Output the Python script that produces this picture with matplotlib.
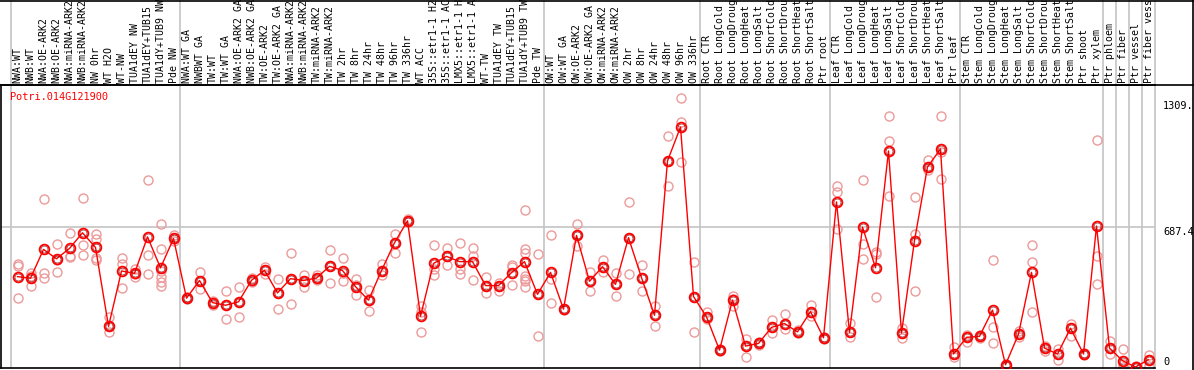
import matplotlib
matplotlib.use("Agg")
import matplotlib.pyplot as plt
import matplotlib.transforms as mtransforms
from matplotlib.lines import Line2D

# sample groups (labels are cut to 14 chars like the original)
labels_nw = ["NWA:WT", "NWB:WT", "NWA:OE-ARK2", "NWB:OE-ARK2", "NWA:miRNA-ARK2", "NWB:miRNA-ARK2",
             "NW 0hr", "WT H2O", "WT-NW", "TUA1dEY NW", "TUA1dEY+TUB15", "TUA1dY+TUB9 NW", "Pde NW"]
labels_tw = ["NWA:WT GA", "NWBWT GA", "TW:WT", "TW:WT GA", "NWA:OE-ARK2 GA", "NWB:OE-ARK2 GA",
             "TW:OE-ARK2", "TW:OE-ARK2 GA", "NWA:miRNA-ARK2", "NWB:miRNA-ARK2", "TW:miRNA-ARK2",
             "TW:miRNA-ARK2", "TW 2hr", "TW 8hr", "TW 24hr", "TW 48hr", "TW 96hr", "TW 336hr", "WT ACC",
             "35S::etr1-1 H2", "35S::etr1-1 AC", "LMX5::etr1-1 H", "LMX5::etr1-1 A", "WT-TW",
             "TUA1dEY TW", "TUA1dEY+TUB15", "TUA1dY+TUB9 TW", "Pde TW"]
labels_ow = ["OW:WT", "OW:WT GA", "OW:OE-ARK2", "OW:OE-ARK2 GA", "OW:miRNA-ARK2", "OW:miRNA-ARK2",
             "OW 2hr", "OW 8hr", "OW 24hr", "OW 48hr", "OW 96hr", "OW 336hr"]
labels_root = ["Root CTR", "Root LongCold", "Root LongDroug", "Root LongHeat", "Root LongSalt",
               "Root ShortCold", "Root ShortDrou", "Root ShortHeat", "Root ShortSalt", "Ptr root"]
labels_leaf = ["Leaf CTR", "Leaf LongCold", "Leaf LongDroug", "Leaf LongHeat", "Leaf LongSalt",
               "Leaf ShortCold", "Leaf ShortDrou", "Leaf ShortHeat", "Leaf ShortSalt", "Ptr leaf"]
labels_stem = ["Stem CTR", "Stem LongCold", "Stem LongDroug", "Stem LongHeat", "Stem LongSalt",
               "Stem ShortCold", "Stem ShortDrou", "Stem ShortHeat", "Stem ShortSalt", "Ptr shoot",
               "Ptr xylem"]
labels_ptr = ["Ptr phloem", "Ptr fiber", "Ptr vessel", "Ptr fiber vess"]

# mean expression per sample
mean_nw = [445, 437, 579, 533, 584, 661, 589, 200, 473, 461, 641, 488, 633]
mean_tw = [339, 426, 317, 304, 321, 427, 476, 365, 435, 426, 438, 496, 475, 396, 329, 475, 612, 720,
           250, 510, 545, 519, 519, 401, 401, 465, 519, 358]
mean_ow = [466, 285, 648, 422, 494, 407, 637, 440, 255, 1015, 1182, 347]
mean_root = [247, 83, 330, 103, 116, 195, 214, 173, 273, 144]
mean_leaf = [813, 170, 689, 489, 1064, 167, 623, 985, 1074, 64]
mean_stem = [146, 151, 280, 11, 162, 466, 93, 64, 191, 64, 694]
mean_ptr = [93, 31, 0, 36]

# replicates per sample
reps_nw = [[506, 497, 342], [465, 447, 399], [828, 461, 440], [604, 470, 527], [661, 542, 549],
           [833, 599, 553], [653, 632, 538, 527], [244, 200, 173], [538, 506, 391], [481, 445, 457],
           [923, 550, 457], [705, 583, 473, 443, 420, 399], [648, 620, 631]]
reps_tw = [[335, 343, 339], [470, 386, 426], [326, 304, 317], [372, 236, 304], [396, 244, 321],
           [440, 424, 418], [494, 460, 476], [435, 285, 365], [560, 309, 435], [453, 396, 426],
           [453, 429, 438], [574, 416, 496], [538, 461, 424], [432, 355, 402], [378, 275, 329],
           [509, 452, 475], [656, 563, 612], [730, 715, 720], [301, 272, 170], [599, 481, 453],
           [584, 504, 545], [612, 481, 460], [584, 546, 429], [445, 362, 401], [416, 375, 401],
           [504, 494, 403], [771, 583, 563, 450, 435, 424, 396], [558, 151, 358]]
reps_ow = [[648, 432, 317], [280, 288, 285], [702, 595, 648], [470, 376, 422], [525, 468, 494],
           [465, 349, 407], [813, 460, 637], [501, 372, 440], [301, 200, 255], [1137, 890, 1015],
           [1324, 1209, 1010], [519, 170, 347]]
reps_root = [[272, 236, 247], [80, 90, 83], [350, 301, 335], [137, 51, 103], [110, 122, 116],
             [231, 165, 195], [260, 187, 214], [180, 166, 173], [304, 252, 273], [150, 137, 144]]
reps_leaf = [[893, 862, 681], [219, 146, 170], [923, 607, 534], [566, 555, 347], [1237, 1114, 844],
             [190, 141, 167], [839, 653, 372], [1018, 972, 985], [1237, 1057, 928], [97, 48, 64]]
reps_stem = [[159, 124, 146], [160, 145, 151], [529, 195, 116], [5, 15, 11], [178, 146, 162],
             [602, 519, 273], [105, 80, 93], [88, 34, 64], [214, 154, 191], [70, 58, 64],
             [1119, 546, 411]]
reps_ptr = [[126, 64, 93], [88, 15, 0], [0, 5, 2], [60, 6, 36]]

gene = "Potri.014G121900"
axis_marks = [(1309, "1309.", "top"), (687.4, "687.4", "top"), (0, "0", "bottom")]

groups = [(labels_nw, mean_nw, reps_nw), (labels_tw, mean_tw, reps_tw), (labels_ow, mean_ow, reps_ow),
          (labels_root, mean_root, reps_root), (labels_leaf, mean_leaf, reps_leaf),
          (labels_stem, mean_stem, reps_stem), (labels_ptr, mean_ptr, reps_ptr)]

labels, means, reps = [], [], []
for lab, m, r in groups:
    labels += lab
    means += m
    reps += r
n = len(labels)

# group separators: after each group, plus every single Ptr tissue
bounds = [-0.5]
pos = -0.5
for lab, _, _ in groups[:-1]:
    pos += len(lab)
    bounds.append(pos)
for _ in labels_ptr:
    pos += 1
    bounds.append(pos)

W, H = 1194, 370
fig = plt.figure(figsize=(W / 100, H / 100), dpi=100)
ax = fig.add_axes([1 / W, (H - 368) / H, (1155 - 1) / W, (368 - 85) / H])
ax.set_xlim(-1.27, n - 0.5)
ax.set_ylim(-5, 1389)
ax.spines["right"].set_visible(False)
for s in ["left", "bottom", "top"]:
    ax.spines[s].set_linewidth(1.2)
ax.set_xticks([])
ax.set_yticks([])

grey = "#c4c4c4"
top_ax = (368 - 0) / (368 - 85)
xtrans = mtransforms.blended_transform_factory(ax.transData, ax.transAxes)
for b in bounds:
    ax.plot([b, b], [0, top_ax], color=grey, lw=1.2, transform=xtrans, clip_on=False, zorder=0)
ax.axhline(687.4, color=grey, lw=1.2, zorder=0)

# replicate points
for i, r in enumerate(reps):
    ax.plot([i] * len(r), r, "o", ms=6.5, mfc="none", mec="#ec9a9a", mew=1.0, zorder=2)

# mean line
xs = list(range(n))
ax.plot(xs, means, "-", color="red", lw=1.0, zorder=3)
ax.plot(xs, means, "o", ms=7, mfc="none", mec="red", mew=1.3, zorder=4)
ax.plot(xs, means, "o", ms=5, mfc="none", mec="#800000", mew=0.4, zorder=5)

# sample names above plot
for i, lab in enumerate(labels):
    ax.text(i, 1 + 2 / 283, lab, rotation=90, ha="center", va="bottom", transform=xtrans,
            family="DejaVu Sans Mono", fontsize=7.1, clip_on=False)

fig.text(10 / W, 1 - 97 / H, gene, color="red", family="DejaVu Sans Mono", fontsize=7.4, va="center")

ytrans = mtransforms.blended_transform_factory(fig.transFigure, ax.transData)
for val, txt, va in axis_marks:
    ax.text(1163 / W, val, txt, transform=ytrans, family="DejaVu Sans Mono", fontsize=7.4,
            va=va, ha="left", clip_on=False)

# outer frame and header rule
for xy in [([0, 1], [1 - 85 / H, 1 - 85 / H]), ([0, 1], [1 - 0.5 / H, 1 - 0.5 / H]),
           ([1193 / W, 1193 / W], [0, 1])]:
    fig.add_artist(Line2D(xy[0], xy[1], color="black", lw=1.2, transform=fig.transFigure))

fig.savefig("out.png", dpi=100)
